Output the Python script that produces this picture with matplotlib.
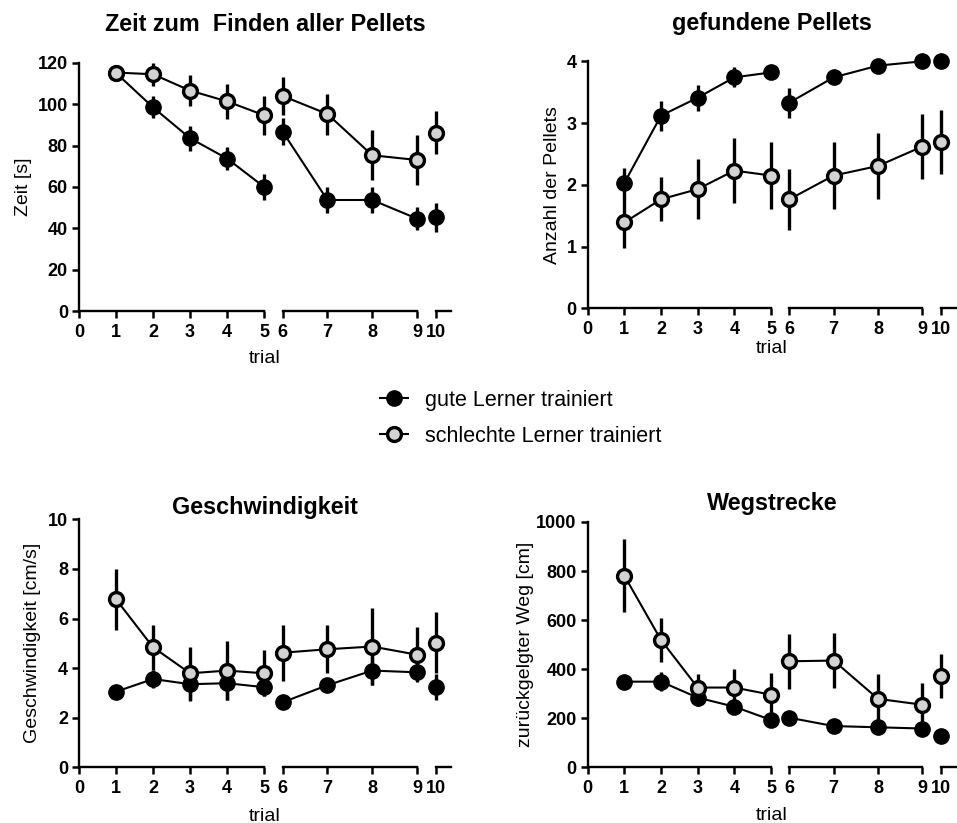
import matplotlib
matplotlib.use('Agg')
import matplotlib.pyplot as plt
import numpy as np

plt.rcParams['font.family'] = ['Liberation Sans', 'DejaVu Sans']

trials = np.arange(1, 11)

# Zeit zum Finden aller Pellets [s]
zeit_gut = [115, 98.4, 83.5, 73.7, 60.0, 86.7, 53.7, 53.7, 44.7, 45.4]
zeit_gut_err = [1, 5.3, 6.0, 5.5, 6.3, 6.5, 6.4, 6.4, 5.5, 7.0]
zeit_schlecht = [115.2, 114.4, 106.5, 101.3, 94.6, 103.9, 95.2, 75.3, 73.0, 86.2]
zeit_schlecht_err = [1.5, 5.5, 7.6, 8.4, 9.4, 9.4, 9.9, 12.0, 12.2, 10.5]

# gefundene Pellets
pellets_gut = [2.03, 3.12, 3.41, 3.74, 3.82, 3.33, 3.74, 3.93, 4.0, 4.0]
pellets_gut_err = [0.25, 0.245, 0.21, 0.16, 0.03, 0.245, 0.03, 0.03, 0.0, 0.0]
pellets_schlecht = [1.39, 1.765, 1.93, 2.23, 2.15, 1.765, 2.15, 2.305, 2.62, 2.69]
pellets_schlecht_err = [0.41, 0.355, 0.48, 0.52, 0.54, 0.49, 0.54, 0.54, 0.52, 0.52]

# Geschwindigkeit [cm/s]
speed_gut = [3.05, 3.56, 3.35, 3.39, 3.23, 2.62, 3.31, 3.9, 3.83, 3.25]
speed_gut_err = [0.1, 0.37, 0.68, 0.67, 0.35, 0.1, 0.1, 0.57, 0.3, 0.53]
speed_schlecht = [6.77, 4.84, 3.79, 3.9, 3.79, 4.62, 4.76, 4.87, 4.54, 5.03]
speed_schlecht_err = [1.24, 0.9, 1.07, 1.18, 0.93, 1.13, 0.96, 1.55, 1.12, 1.24]

# Wegstrecke [cm]
weg_gut = [349, 349, 284, 247, 193, 202, 168, 163, 158, 129]
weg_gut_err = [10, 40, 33, 10, 10, 10, 8, 8, 8, 8]
weg_schlecht = [781, 519, 325, 325, 296, 432, 435, 279, 255, 372]
weg_schlecht_err = [149, 90, 55, 77, 87, 112, 112, 103, 87, 88]

label_gut = 'gute Lerner trainiert'
label_schlecht = 'schlechte Lerner trainiert'


def xpos(t):
    # broken x axis: 0-5 | 6-9 (wider steps) | 10
    t = np.asarray(t, dtype=float)
    return np.where(t <= 5, t,
                    np.where(t <= 9, 5.5 + (t - 6) * 1.21, 9.13 + (t - 9) * 0.52))


SEGMENTS = [(0, 5), (5.5, 9.13), (9.65, 10.05)]
GROUPS = [slice(0, 5), slice(5, 9), slice(9, 10)]


def draw_series(ax, vals, errs, filled):
    vals = np.asarray(vals)
    errs = np.asarray(errs)
    x = xpos(trials)
    if filled:
        kw = dict(marker='o', ms=11, mfc='black', mec='black', mew=1, zorder=3)
    else:
        kw = dict(marker='o', ms=10, mfc='#d3d3d3', mec='black', mew=2.4, zorder=4)
    for g in GROUPS:
        ax.errorbar(x[g], vals[g], yerr=errs[g], color='black', lw=1.5,
                    elinewidth=2.4, capsize=0, clip_on=False, **kw)


def setup(ax, title, ylabel, ymax, ystep, pad, ylab_x, xlab_y):
    ax.set_xlim(0, 10.05)
    ax.set_ylim(0, ymax)
    ax.spines['top'].set_visible(False)
    ax.spines['right'].set_visible(False)
    ax.spines['bottom'].set_visible(False)
    ax.spines['left'].set_linewidth(1.7)
    for a, b in SEGMENTS:
        ax.plot([a, b], [0, 0], color='black', lw=1.7, clip_on=False,
                transform=ax.get_xaxis_transform(), zorder=2)
    ax.set_xticks(xpos(np.arange(0, 11)))
    ax.set_xticklabels([str(i) for i in range(0, 11)])
    ax.set_xticks(xpos([5, 6, 9, 10]), minor=True)
    ax.tick_params(axis='x', which='major', direction='out', length=5, width=1.8,
                   labelsize=13, pad=4)
    ax.tick_params(axis='x', which='minor', direction='in', length=5, width=1.8)
    ax.set_yticks(np.arange(0, ymax + ystep / 2, ystep))
    ax.tick_params(axis='y', direction='out', length=5, width=1.8, labelsize=13,
                   pad=3)
    for lab in ax.get_xticklabels() + ax.get_yticklabels():
        lab.set_fontweight('bold')
    ax.set_title(title, fontsize=16.8, fontweight='bold', pad=pad)
    ax.set_ylabel(ylabel, fontsize=14)
    ax.set_xlabel('trial', fontsize=14)
    ax.yaxis.set_label_coords(ylab_x, 0.5)
    ax.xaxis.set_label_coords(0.5, xlab_y)


fig = plt.figure(figsize=(9.57, 8.23), dpi=100)
ax1 = fig.add_axes([0.0826, 0.6218, 0.3887, 0.3021])
ax2 = fig.add_axes([0.6141, 0.6254, 0.3849, 0.3001])
ax3 = fig.add_axes([0.0826, 0.0677, 0.3887, 0.3013])
ax4 = fig.add_axes([0.6141, 0.0677, 0.3849, 0.2981])

panels = [
    (ax1, zeit_gut, zeit_gut_err, zeit_schlecht, zeit_schlecht_err,
     'Zeit zum  Finden aller Pellets', 'Zeit [s]', 120, 20, 23, -0.127, -0.156),
    (ax2, pellets_gut, pellets_gut_err, pellets_schlecht, pellets_schlecht_err,
     'gefundene Pellets', 'Anzahl der Pellets', 4, 1, 22.5, -0.0725, -0.128),
    (ax3, speed_gut, speed_gut_err, speed_schlecht, speed_schlecht_err,
     'Geschwindigkeit', 'Geschwindigkeit [cm/s]', 10, 2, 4, -0.102, -0.164),
    (ax4, weg_gut, weg_gut_err, weg_schlecht, weg_schlecht_err,
     'Wegstrecke', 'zurückgelgter Weg [cm]', 1000, 200, 8.6, -0.146, -0.161),
]

for ax, g, ge, s, se, title, ylabel, ymax, ystep, pad, lx, ly in panels:
    setup(ax, title, ylabel, ymax, ystep, pad, lx, ly)
    draw_series(ax, g, ge, True)
    draw_series(ax, s, se, False)

h_gut = plt.Line2D([], [], color='black', lw=1.5, marker='o', ms=11,
                   mfc='black', mec='black')
h_schlecht = plt.Line2D([], [], color='black', lw=1.5, marker='o', ms=10,
                        mfc='#d3d3d3', mec='black', mew=2.4)
fig.legend([h_gut, h_schlecht], [label_gut, label_schlecht],
           loc='center left', bbox_to_anchor=(0.397, 0.4915), frameon=False,
           fontsize=15.5, handlelength=1.3, labelspacing=0.7, handletextpad=0.8,
           borderpad=0, borderaxespad=0)

fig.savefig('out.png', dpi=100)
